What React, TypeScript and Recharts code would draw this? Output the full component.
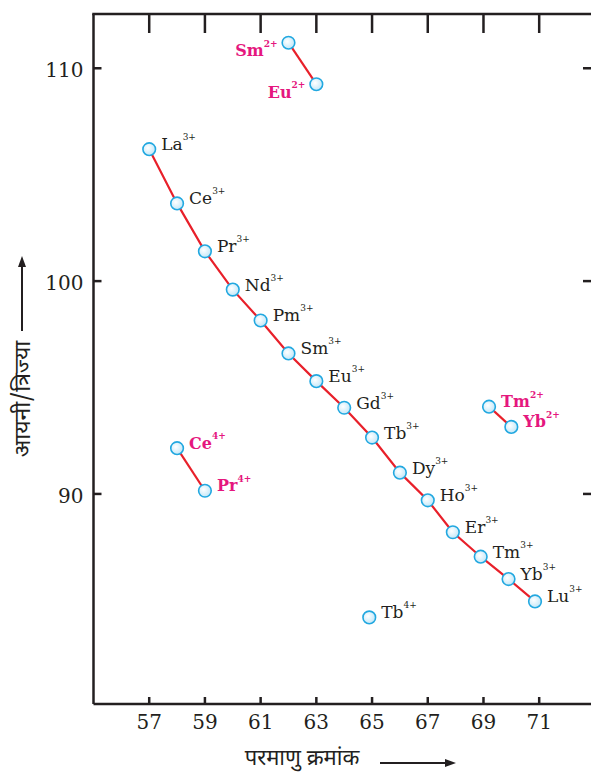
import React from "react";
import { ScatterChart, Scatter, XAxis, YAxis } from "recharts";

// Ln(3+) series, atomic number vs ionic radius (pm)
const ln3Symbols = ["La", "Ce", "Pr", "Nd", "Pm", "Sm", "Eu", "Gd", "Tb", "Dy", "Ho", "Er", "Tm", "Yb", "Lu"];
const ln3AtomicNo = [57, 58, 59, 60, 61, 62, 63, 64, 65, 66, 67, 67.9, 68.9, 69.9, 70.85];
const ln3Radius = [106.2, 103.65, 101.4, 99.6, 98.15, 96.6, 95.3, 94.05, 92.65, 91.0, 89.7, 88.2, 87.05, 86.0, 84.95];

// Ln(2+) light pair
const ln2aSymbols = ["Sm", "Eu"];
const ln2aAtomicNo = [62, 63];
const ln2aRadius = [111.2, 109.25];

// Ln(4+) pair
const ln4Symbols = ["Ce", "Pr"];
const ln4AtomicNo = [58, 59];
const ln4Radius = [92.15, 90.15];

// Ln(2+) heavy pair
const ln2bSymbols = ["Tm", "Yb"];
const ln2bAtomicNo = [69.2, 70];
const ln2bRadius = [94.1, 93.15];

// Tb(4+)
const tb4Symbols = ["Tb"];
const tb4AtomicNo = [64.9];
const tb4Radius = [84.2];

const xTicks = [57, 59, 61, 63, 65, 67, 69, 71];
const yTicks = [90, 100, 110];

const toRows = (syms: string[], z: number[], r: number[], charge: string) =>
  syms.map((s, i) => ({ sym: s, charge, z: z[i], r: r[i] }));

const ln3Data = toRows(ln3Symbols, ln3AtomicNo, ln3Radius, "3+");
const ln2aData = toRows(ln2aSymbols, ln2aAtomicNo, ln2aRadius, "2+");
const ln4Data = toRows(ln4Symbols, ln4AtomicNo, ln4Radius, "4+");
const ln2bData = toRows(ln2bSymbols, ln2bAtomicNo, ln2bRadius, "2+");
const tb4Data = toRows(tb4Symbols, tb4AtomicNo, tb4Radius, "4+");

// layout
const W = 610;
const H = 775;
const PLOT_LEFT = 93.5;
const PLOT_TOP = 14;
const PLOT_BOTTOM = 704;
const INK = "#231f20";
const PINK = "#e5177e";
const RED = "#e8202a";
const SERIF = "'DejaVu Serif', serif";
const DEVA = "'Noto Sans Devanagari', 'Lohit Devanagari', 'Noto Sans', sans-serif";

const YTick = (p: any) => {
  const y = p.payload.coordinate;
  return (
    <g>
      <line x1={PLOT_LEFT} x2={PLOT_LEFT + 8} y1={y} y2={y} stroke={INK} strokeWidth={2.5} />
      <line x1={583} x2={600} y1={y} y2={y} stroke={INK} strokeWidth={2.5} />
      <text x={PLOT_LEFT - 10} y={y + 2} textAnchor="end" dominantBaseline="central"
        fontFamily={SERIF} fontSize={20} fill={INK}>{p.payload.value}</text>
    </g>
  );
};

const XTick = (p: any) => {
  const x = p.payload.coordinate;
  return (
    <g>
      <line x1={x} x2={x} y1={PLOT_BOTTOM} y2={PLOT_BOTTOM - 7} stroke={INK} strokeWidth={2.5} />
      <line x1={x} x2={x} y1={PLOT_TOP} y2={PLOT_TOP + 19} stroke={INK} strokeWidth={2.5} />
      <text x={x} y={722} textAnchor="middle" dominantBaseline="central"
        fontFamily={SERIF} fontSize={20} fill={INK}>{p.payload.value}</text>
    </g>
  );
};

const makeShape = (color: string, bold: boolean, side: "right" | "left") => (p: any) => {
  const { cx, cy, payload } = p;
  const right = side === "right";
  const lx = right ? cx + 12 : cx - 11;
  const ly = right ? cy - 5 : cy + 8;
  return (
    <g>
      <circle cx={cx} cy={cy} r={6.3} fill="url(#ball)" stroke="#22a8e0" strokeWidth={1.6} />
      <text x={lx} y={ly} textAnchor={right ? "start" : "end"} dominantBaseline="central"
        fontFamily={SERIF} fontSize={bold ? 16 : 17} fontWeight={bold ? 700 : 400} fill={color}>
        {payload.sym}
        <tspan dy={-7} fontSize={9}>{payload.charge}</tspan>
      </text>
    </g>
  );
};

const lineStyle = { stroke: RED, strokeWidth: 2.2 };

export default function App() {
  return (
    <div style={{ position: "fixed", left: 0, top: 0, width: 591, height: 775, overflow: "hidden", background: "#fff" }}>
      <ScatterChart width={W} height={H} margin={{ top: PLOT_TOP, right: 15.1, bottom: 41, left: 33.5 }}>
        <defs>
          <radialGradient id="ball" cx="40%" cy="40%" r="65%">
            <stop offset="0%" stopColor="#ffffff" />
            <stop offset="100%" stopColor="#bfe6f8" />
          </radialGradient>
        </defs>
        <XAxis type="number" dataKey="z" domain={[55, 73]} ticks={xTicks} allowDataOverflow
          height={30} axisLine={{ stroke: INK, strokeWidth: 2.5 }} tickLine={false} tick={<XTick />} />
        <YAxis type="number" dataKey="r" domain={[80.13, 112.55]} ticks={yTicks} allowDataOverflow
          width={60} axisLine={{ stroke: INK, strokeWidth: 2.5 }} tickLine={false} tick={<YTick />} />
        <Scatter data={ln3Data} line={lineStyle} lineType="joint" isAnimationActive={false}
          shape={makeShape(INK, false, "right")} />
        <Scatter data={ln2aData} line={lineStyle} lineType="joint" isAnimationActive={false}
          shape={makeShape(PINK, true, "left")} />
        <Scatter data={ln4Data} line={lineStyle} lineType="joint" isAnimationActive={false}
          shape={makeShape(PINK, true, "right")} />
        <Scatter data={ln2bData} line={lineStyle} lineType="joint" isAnimationActive={false}
          shape={makeShape(PINK, true, "right")} />
        <Scatter data={tb4Data} isAnimationActive={false} shape={makeShape(INK, false, "right")} />
      </ScatterChart>
      <svg width={591} height={775} style={{ position: "absolute", left: 0, top: 0, pointerEvents: "none" }}>
        {/* top frame line */}
        <line x1={PLOT_LEFT - 1.25} x2={591} y1={PLOT_TOP} y2={PLOT_TOP} stroke={INK} strokeWidth={2.5} />
        <text transform="translate(24,399) rotate(-90)" textAnchor="middle" dominantBaseline="central"
          fontFamily={DEVA} fontSize={23} fill={INK}>आयनी/त्रिज्या</text>
        <line x1={22} x2={22} y1={331} y2={264} stroke={INK} strokeWidth={2} />
        <polygon points="22,256 18,267 26,267" fill={INK} />
        <text x={302} y={759} textAnchor="middle" dominantBaseline="central"
          fontFamily={DEVA} fontSize={22} fill={INK}>परमाणु क्रमांक</text>
        <line x1={380} x2={447} y1={763} y2={763} stroke={INK} strokeWidth={2} />
        <polygon points="456,763 445,759 445,767" fill={INK} />
      </svg>
    </div>
  );
}
